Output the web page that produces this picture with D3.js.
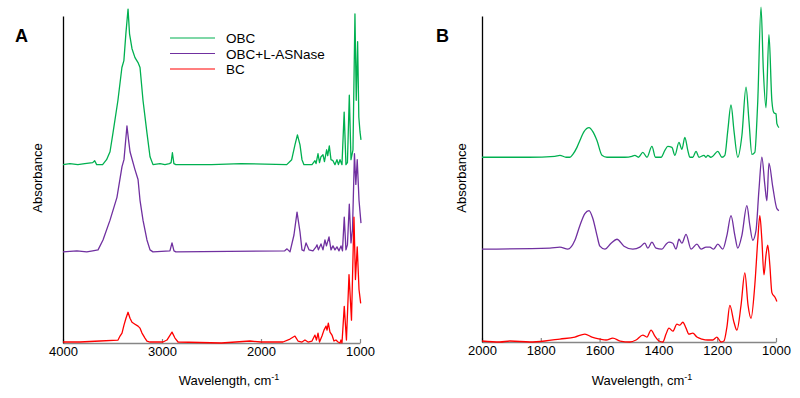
<!DOCTYPE html>
<html>
<head>
<meta charset="utf-8">
<script src="https://cdn.jsdelivr.net/npm/d3@7"></script>
<style>
  body { margin: 0; background: #fff; }
  svg { font-family: "Liberation Sans", Arial, sans-serif; }
</style>
</head>
<body>
<div id="chart"></div>
<script>
// series names + colours (legend order)
const seriesNames = ['OBC', 'OBC+L-ASNase', 'BC'];
const seriesColors = ['#00B050', '#7030A0', '#FF0000'];

// panel A: full range, [wavenumber, absorbance above own baseline]
const obcA = [[4000,0],[3930,0.01],[3850,0],[3780,0.01],[3700,0.02],[3680,0.04],[3660,0],[3600,0],[3560,0.05],[3525,0.13],[3495,0.32],[3445,0.65],[3405,0.98],[3385,1.05],[3365,1.32],[3343,1.57],[3328,1.32],[3303,1.17],[3273,1.08],[3242,1.03],[3222,0.98],[3192,0.65],[3152,0.32],[3121,0.08],[3091,0],[3020,0.01],[2970,0],[2925,0.01],[2908,0.02],[2895,0.12],[2880,0.01],[2860,0],[2500,0],[2200,0.01],[1740,0],[1690,0.05],[1657,0.20],[1632,0.30],[1606,0.20],[1586,0.05],[1566,0],[1485,0],[1455,0.04],[1444,0.01],[1424,0.11],[1409,0.02],[1394,0.08],[1374,0.10],[1359,0.03],[1337,0.15],[1326,0.09],[1310,0.19],[1293,0.05],[1273,0.04],[1253,0],[1233,0.05],[1218,0],[1202,0.05],[1182,0],[1160,0.53],[1142,0],[1127,0.02],[1108,0.70],[1091,0.05],[1071,0.15],[1051,1.52],[1038,0.65],[1024,1.24],[1012,0.48],[1000,0.33],[990,0.25]];
const obcAsnA = [[4000,0],[3860,0.01],[3760,0],[3700,0.01],[3646,0.02],[3596,0.12],[3525,0.32],[3455,0.55],[3404,0.86],[3384,0.93],[3354,1.27],[3338,1.13],[3323,1.01],[3273,0.83],[3242,0.73],[3222,0.52],[3192,0.32],[3152,0.12],[3121,0.02],[3091,0],[2920,0.01],[2899,0.09],[2879,0.01],[2860,0],[1760,0.01],[1737,0.03],[1707,0],[1667,0.17],[1636,0.40],[1606,0.20],[1586,0.02],[1566,0.01],[1545,0.09],[1515,0.02],[1475,0.01],[1444,0.05],[1434,0.07],[1420,0.02],[1394,0.08],[1374,0.02],[1354,0.12],[1339,0.06],[1313,0.15],[1293,0.02],[1273,0.06],[1253,0.02],[1233,0.05],[1212,0.01],[1192,0.06],[1177,0.01],[1159,0.35],[1142,0.02],[1127,0.07],[1108,0.48],[1091,0.09],[1076,0.22],[1056,0.99],[1042,0.68],[1028,0.93],[1010,0.52],[990,0.29]];
const bcA = [[4000,0.01],[3830,0.01],[3626,0.02],[3444,0.03],[3424,0.07],[3404,0.10],[3384,0.18],[3364,0.25],[3343,0.31],[3323,0.25],[3303,0.21],[3273,0.19],[3242,0.17],[3222,0.15],[3202,0.10],[3172,0.05],[3152,0.02],[3121,0.01],[2990,0.01],[2950,0.03],[2899,0.11],[2869,0.05],[2838,0.01],[2400,0],[2111,0.02],[2000,0.01],[1778,0.01],[1707,0.04],[1657,0.07],[1626,0.02],[1586,0.01],[1556,0.03],[1525,0.01],[1485,0.02],[1455,0.08],[1440,0.03],[1424,0.10],[1409,0.01],[1384,0.07],[1364,0.13],[1343,0.17],[1333,0.13],[1320,0.20],[1303,0.11],[1283,0.08],[1263,0.02],[1243,0.03],[1222,0.01],[1202,0],[1192,0.03],[1182,0],[1159,0.37],[1137,0.03],[1111,0.69],[1086,0.23],[1061,1.27],[1046,0.64],[1028,0.97],[1010,0.54],[993,0.40]];

// panel B: fingerprint region
const obcB = [[2000,0],[1840,0],[1752,0.01],[1735,0.02],[1714,0],[1701,0],[1691,0.03],[1677,0.10],[1667,0.17],[1653,0.26],[1636,0.30],[1623,0.26],[1609,0.17],[1592,0.02],[1575,0],[1514,0],[1490,0.01],[1480,0.02],[1468,0],[1453,0.05],[1439,0],[1422,0.11],[1410,0],[1391,0],[1378,0.07],[1368,0.11],[1354,0.10],[1344,0.02],[1330,0.15],[1320,0.08],[1310,0.20],[1300,0.07],[1293,0],[1283,0],[1272,0.06],[1262,0],[1245,0.02],[1238,0],[1232,0.02],[1222,0],[1215,0.01],[1198,0.06],[1184,0],[1174,0.02],[1164,0.27],[1153,0.53],[1143,0.27],[1130,0],[1116,0.22],[1102,0.71],[1092,0.37],[1082,0.03],[1072,0.05],[1065,0.37],[1062,0.57],[1051,1.52],[1043,0.88],[1034,0.50],[1024,1.24],[1014,0.57],[1007,0.45],[1000,0.44],[997,0.34],[990,0.30]];
const obcAsnB = [[2000,0],[1769,0.01],[1735,0.02],[1708,0],[1684,0.09],[1667,0.24],[1650,0.36],[1636,0.39],[1623,0.31],[1609,0.14],[1599,0.03],[1582,0],[1561,0.06],[1541,0.10],[1517,0.03],[1487,0],[1463,0.02],[1446,0.06],[1436,0.01],[1422,0.07],[1408,0.01],[1388,0],[1374,0.05],[1364,0.07],[1351,0.06],[1340,0],[1330,0.10],[1320,0.06],[1306,0.15],[1289,0],[1269,0.05],[1255,0],[1238,0.02],[1225,0.02],[1212,0],[1198,0.05],[1181,0],[1167,0.14],[1153,0.34],[1140,0.14],[1130,0.01],[1116,0.14],[1099,0.44],[1089,0.24],[1079,0.09],[1068,0.19],[1058,0.60],[1048,0.93],[1038,0.65],[1031,0.49],[1024,0.87],[1011,0.63],[997,0.41],[990,0.39]];
const bcB = [[2000,0.01],[1939,0],[1905,0.01],[1837,0],[1786,0.01],[1735,0.03],[1684,0.05],[1650,0.08],[1626,0.05],[1599,0.03],[1578,0.02],[1555,0.04],[1530,0.01],[1497,0],[1476,0.02],[1453,0.07],[1439,0.05],[1425,0.12],[1412,0.06],[1398,0.01],[1385,0],[1374,0.08],[1364,0.14],[1351,0.11],[1337,0.18],[1327,0.17],[1317,0.20],[1306,0.14],[1296,0.08],[1283,0.09],[1269,0.05],[1252,0.03],[1232,0.02],[1215,0.02],[1201,0.05],[1187,0],[1177,0.01],[1167,0.15],[1157,0.37],[1143,0.20],[1133,0.12],[1119,0.37],[1106,0.70],[1095,0.37],[1085,0.24],[1072,0.58],[1062,1.03],[1055,1.28],[1048,1.03],[1041,0.68],[1034,0.88],[1028,0.98],[1021,0.78],[1014,0.50],[1003,0.45],[997,0.41]];

// vertical stacking offsets (OBC, OBC+L-ASNase, BC)
const offsetsA = [1.80, 0.92, 0];
const offsetsB = [1.87, 0.94, 0];

const ticksA = [4000, 3000, 2000, 1000];
const ticksB = [2000, 1800, 1600, 1400, 1200, 1000];

const width = 800, height = 398;

const svg = d3.select('#chart').append('svg')
  .attr('width', width)
  .attr('height', height);

svg.append('rect').attr('width', width).attr('height', height).attr('fill', '#fff');

function drawPanel(opts) {
  const x = d3.scaleLinear().domain(opts.xDomain).range([opts.left, opts.right]);
  const y = d3.scaleLinear().domain([0, 3.3]).range([opts.bottom, 16]);

  const line = d3.line()
    .x(d => x(d[0]))
    .y(d => y(d[1]))
    .curve(opts.curve);

  // bottom axis (grey, ticks pointing up)
  const xAxis = svg.append('g')
    .attr('transform', `translate(0,${opts.bottom})`)
    .call(d3.axisBottom(x).tickValues(opts.ticks).tickFormat(d3.format('d'))
      .tickSizeInner(-4).tickSizeOuter(0).tickPadding(4));
  xAxis.select('.domain').attr('stroke', '#868686').attr('stroke-width', 1.5);
  xAxis.selectAll('.tick line').attr('stroke', '#868686').attr('stroke-width', 1.2);
  xAxis.selectAll('.tick text')
    .attr('fill', '#000')
    .style('font-size', '13px')
    .style('font-family', '"Liberation Sans", Arial, sans-serif');

  // left axis: plain black line
  svg.append('g')
    .attr('transform', `translate(${opts.left},0)`)
    .call(d3.axisLeft(y).tickValues([]).tickSizeOuter(0))
    .select('.domain').attr('stroke', '#000').attr('stroke-width', 1.3);

  opts.series.forEach((s, i) => {
    const pts = s.map(d => [d[0], d[1] + opts.offsets[i]]);
    svg.append('path')
      .datum(pts)
      .attr('fill', 'none')
      .attr('stroke', seriesColors[i])
      .attr('stroke-width', 1.3)
      .attr('stroke-linejoin', 'round')
      .attr('d', line);
  });

  // panel letter
  svg.append('text')
    .attr('x', opts.letterX).attr('y', 42)
    .style('font-size', '18px').style('font-weight', 'bold')
    .text(opts.letter);

  // x title with superscript
  const xt = svg.append('text')
    .attr('x', opts.titleX).attr('y', 385)
    .attr('text-anchor', 'middle')
    .style('font-size', '13px');
  xt.append('tspan').text('Wavelength, cm');
  xt.append('tspan').attr('dy', -5).style('font-size', '9px').text('-1');

  svg.append('text')
    .attr('transform', `translate(${opts.yTitleX},178) rotate(-90)`)
    .attr('text-anchor', 'middle')
    .style('font-size', '13px')
    .text('Absorbance');
}

drawPanel({
  letter: 'A', letterX: 15, titleX: 229, yTitleX: 42,
  xDomain: [4000, 1000], left: 63, right: 360, bottom: 343,
  ticks: ticksA, offsets: offsetsA,
  series: [obcA, obcAsnA, bcA],
  curve: d3.curveLinear
});

drawPanel({
  letter: 'B', letterX: 436, titleX: 642, yTitleX: 466,
  xDomain: [2000, 1000], left: 482, right: 776, bottom: 342,
  ticks: ticksB, offsets: offsetsB,
  series: [obcB, obcAsnB, bcB],
  curve: d3.curveMonotoneX
});

// legend (panel A)
const legend = svg.append('g').attr('transform', 'translate(170,38)');
seriesNames.forEach((name, i) => {
  const g = legend.append('g').attr('transform', `translate(0,${i * 15.5})`);
  g.append('line')
    .attr('x1', 0).attr('x2', 45)
    .attr('stroke', seriesColors[i]).attr('stroke-width', 1.2);
  g.append('text')
    .attr('x', 56).attr('y', 5)
    .style('font-size', '13.5px')
    .text(name);
});
</script>
</body>
</html>
